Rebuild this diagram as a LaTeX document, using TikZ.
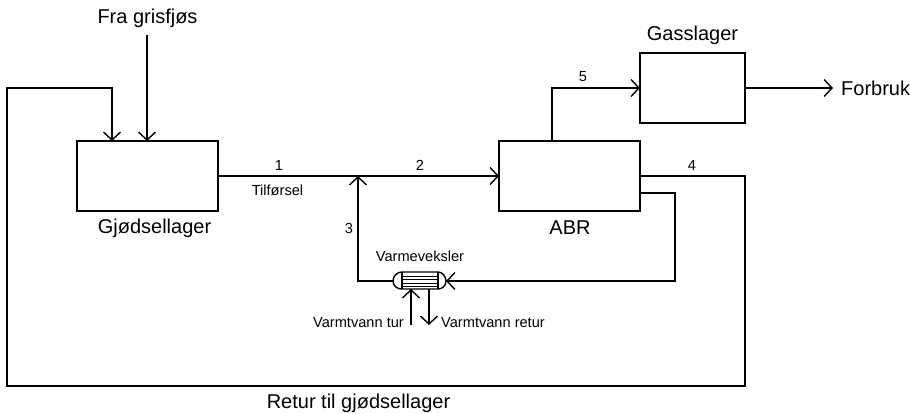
\documentclass[tikz,border=0pt]{standalone}
\usepackage{fontspec}
\setmainfont{Liberation Sans}
\usetikzlibrary{arrows.meta}
\tikzset{
  flow/.style={line width=1.4pt,-{Straight Barb[length=8pt,width=17pt,line width=1.4pt]}},
  pipe/.style={line width=1.4pt},
  unit/.style={draw,line width=1.4pt,inner sep=0pt,outer sep=0pt,anchor=north west},
  big/.style={font=\fontsize{20}{22}\selectfont,inner sep=0pt},
  small/.style={font=\fontsize{14.6}{16}\selectfont,inner sep=0pt}
}
\begin{document}
\begin{tikzpicture}[x=1pt,y=-1pt]
\useasboundingbox (0,0) rectangle (910,414);
\node[unit,minimum width=141pt,minimum height=70pt] (gl) at (77,141) {};
\node[unit,minimum width=141pt,minimum height=70pt] (abr) at (499,141) {};
\node[unit,minimum width=105pt,minimum height=70pt] (gas) at (640,53) {};
\node[big] (t1) at (147.5,18) {Fra grisfjøs};
\node[big] (t2) at (154.5,228) {Gjødsellager};
\node[big] (t3) at (570,228) {ABR};
\node[big] (t4) at (692.5,35) {Gasslager};
\node[big,anchor=west] (t5) at (841,88) {Forbruk};
\node[big] (t6) at (358.5,403) {Retur til gjødsellager};
\node[small] (n1) at (279,165) {1};
\node[small] (n2) at (420,165) {2};
\node[small] (n3) at (349,228) {3};
\node[small] (n4) at (692,165) {4};
\node[small] (n5) at (583,77) {5};
\node[small] (ti) at (277.5,190) {Tilførsel};
\node[small] (vv) at (420,256) {Varmeveksler};
\node[small,anchor=east] (vt) at (404,323) {Varmtvann tur};
\node[small,anchor=west] (vr) at (441,323) {Varmtvann retur};
% heat exchanger
\draw[pipe] (402,272) -- (438,272) .. controls (442,272) and (446,276) .. (446,281) .. controls (446,286) and (442,289) .. (438,289) -- (402,289) .. controls (397,289) and (393,286) .. (393,281) .. controls (393,276) and (397,272) .. (402,272) -- cycle;
\draw[pipe] (402,272) -- (402,289) (438,272) -- (438,289);
\draw[line width=1pt] (402,276) -- (438,276) (402,279.5) -- (438,279.5) (402,283) -- (438,283) (402,286) -- (438,286);
% connectors
\coordinate (a) at (147,35);
\draw[flow] (a) -- (a |- gl.north);
\draw[flow] (abr.east) -- (745,176) -- (745,386) -- (7,386) -- (7,88) -- (112,88) -- (112,141);
\draw[flow] (gl.east) -- (abr.west);
\draw[flow] (552,141) -- (552,88) -- (gas.west);
\coordinate (b) at (833,88);
\draw[flow] (gas.east) -- (b);
\draw[flow] (640,193) -- (675,193) -- (675,281) -- (446,281);
\draw[flow] (393,281) -- (358,281) -- (358,176);
\draw[flow] (411,325) -- (411,289);
\draw[flow] (429,289) -- (429,325);
\end{tikzpicture}
\end{document}
